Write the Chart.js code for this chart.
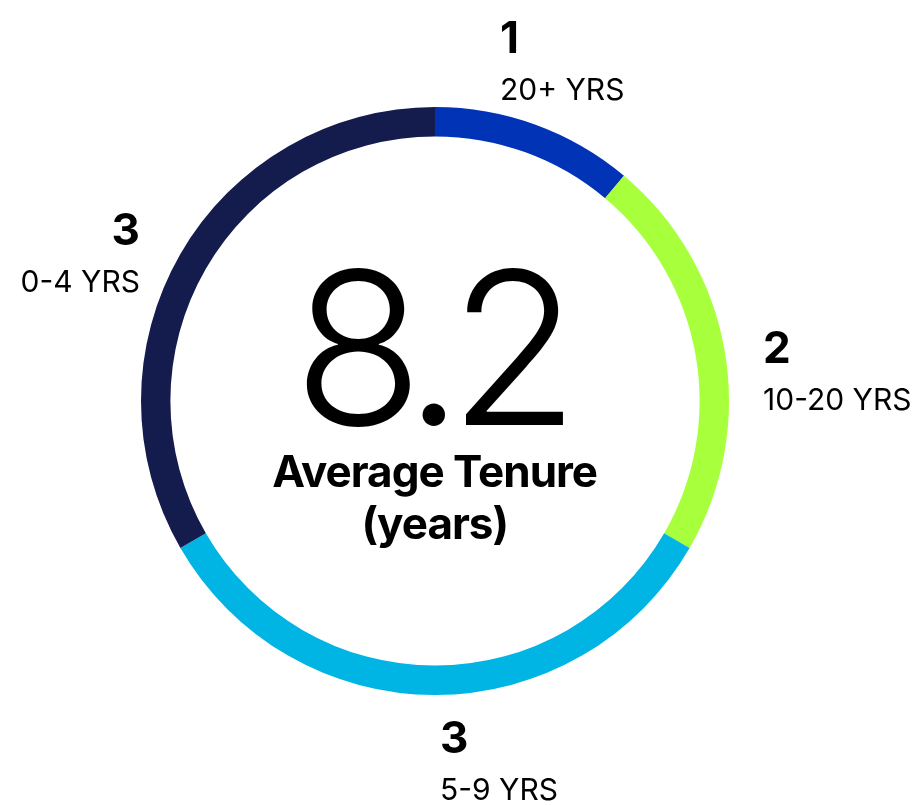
<!DOCTYPE html>
<html>
<head>
<meta charset="utf-8">
<script src="https://cdn.jsdelivr.net/npm/chart.js@4"></script>
<style>
  html, body { margin: 0; padding: 0; background: #ffffff; }
  #wrap { width: 912px; height: 805px; position: relative; }
</style>
</head>
<body>
<div id="wrap"><canvas id="c" width="912" height="805"></canvas></div>
<script>
const categories = ['20+ YRS', '10-20 YRS', '5-9 YRS', '0-4 YRS'];
const counts = [1, 2, 3, 3];
const averageTenure = '8.2';
const centerLines = ['Average Tenure', '(years)'];
const colors = ['#0033B5', '#A8FF3C', '#00B5E3', '#141B4D'];

// label placement relative to doughnut centre (dx, baseline dy of value, alignment)
const labelPlacement = [
  { dx: 65, dy: -348, align: 'left' },
  { dx: 328, dy: -38, align: 'left' },
  { dx: 5, dy: 352, align: 'left' },
  { dx: -295, dy: -156, align: 'right' }
];

function drawCentered(ctx, text, cx, y) {
  ctx.textAlign = 'left';
  const m = ctx.measureText(text);
  const w = m.actualBoundingBoxLeft + m.actualBoundingBoxRight;
  ctx.fillText(text, cx - w / 2 + m.actualBoundingBoxLeft, y);
}

const textPlugin = {
  id: 'textPlugin',
  afterDraw(chart) {
    const ctx = chart.ctx;
    const arc = chart.getDatasetMeta(0).data[0];
    const cx = arc.x, cy = arc.y;
    ctx.save();
    ctx.fillStyle = '#000000';
    ctx.textBaseline = 'alphabetic';
    // center value
    ctx.font = '300 213px Inter';
    ctx.letterSpacing = '-15px';
    drawCentered(ctx, averageTenure, cx, cy + 24);
    ctx.font = '700 44px Inter';
    ctx.letterSpacing = '-1px';
    drawCentered(ctx, centerLines[0], cx, cy + 86);
    drawCentered(ctx, centerLines[1], cx, cy + 138);
    ctx.letterSpacing = '0px';
    // segment labels
    categories.forEach((cat, i) => {
      const p = labelPlacement[i];
      ctx.textAlign = p.align;
      ctx.font = '700 44px Inter';
      ctx.fillText(String(counts[i]), cx + p.dx, cy + p.dy);
      ctx.font = '400 30px Inter';
      ctx.fillText(cat, cx + p.dx, cy + p.dy + 47);
    });
    ctx.restore();
  }
};

new Chart(document.getElementById('c'), {
  type: 'doughnut',
  data: {
    labels: categories,
    datasets: [{
      data: counts,
      backgroundColor: colors,
      borderWidth: 0,
      hoverOffset: 0
    }]
  },
  options: {
    responsive: false,
    animation: false,
    cutout: '90%',
    rotation: 0,
    layout: { padding: { left: 141, right: 183, top: 107, bottom: 110 } },
    plugins: {
      legend: { display: false },
      tooltip: { enabled: false }
    }
  },
  plugins: [textPlugin]
});
</script>
</body>
</html>
